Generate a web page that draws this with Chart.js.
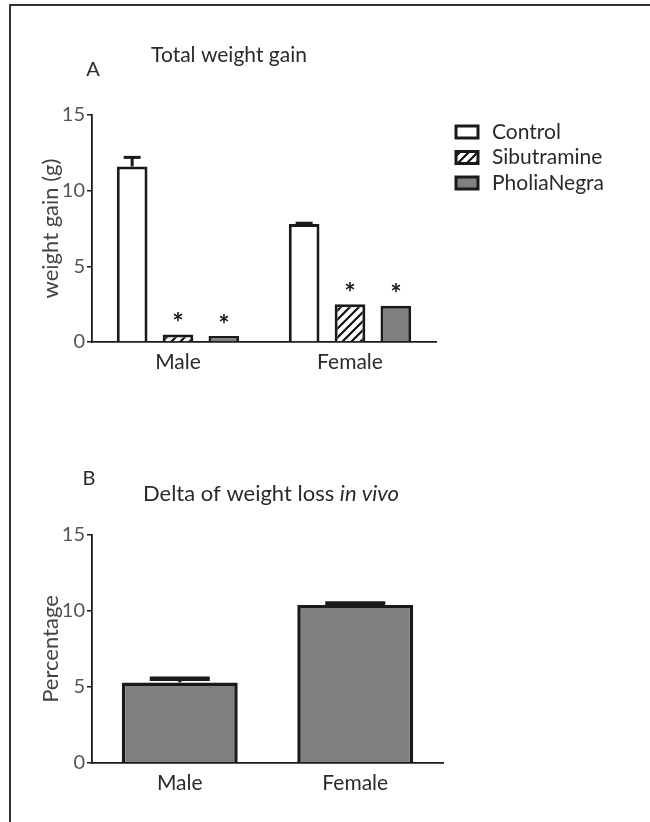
<!DOCTYPE html>
<html><head><meta charset="utf-8">
<script src="https://cdn.jsdelivr.net/npm/chart.js@4.4.0/dist/chart.umd.min.js"></script>
<style>
html,body{margin:0;padding:0;background:#fff;}
body{width:650px;height:822px;position:relative;overflow:hidden;}
#frame{position:absolute;left:9px;top:4px;width:700px;height:900px;border-left:2px solid #333;border-top:2px solid #333;}
.wrap{position:absolute;left:0;width:650px;}
</style></head><body>
<div id="frame"></div>
<div class="wrap" style="top:0;height:410px"><canvas id="cA" width="650" height="410"></canvas></div>
<div class="wrap" style="top:410px;height:412px"><canvas id="cB" width="650" height="412"></canvas></div>
<script>
// ---- data ----
const sexes = ['Male', 'Female'];
const seriesNames = ['Control', 'Sibutramine', 'PholiaNegra'];
const controlGain = [11.6, 7.8];
const sibutramineGain = [0.5, 2.5];
const pholiaGain = [0.4, 2.4];
const controlErr = [0.6, 0.05];
const sibutramineErr = [0, 0];
const pholiaErr = [0, 0];
const sibutramineSig = [true, true];
const pholiaSig = [true, true];
const deltaLoss = [5.3, 10.4];
const deltaLossErr = [0.25, 0.1];
const yTicks = [0, 5, 10, 15];

const FONT = 'Lato';
const INK = '#1a1a1a';
const TXT = '#2a2a2a';
const GREY = '#808080';

function hatchPattern(ctx) {
  const c = document.createElement('canvas'); c.width = 9; c.height = 9;
  const g = c.getContext('2d');
  g.fillStyle = '#fff'; g.fillRect(0, 0, 9, 9);
  g.strokeStyle = '#111'; g.lineWidth = 2.2; g.lineCap = 'square';
  g.beginPath();
  g.moveTo(0, 9); g.lineTo(9, 0);
  g.moveTo(-3, 3); g.lineTo(3, -3);
  g.moveTo(6, 12); g.lineTo(12, 6);
  g.stroke();
  return ctx.createPattern(c, 'repeat');
}

const errPlugin = {
  id: 'errs',
  afterDatasetsDraw(chart) {
    const ctx = chart.ctx, y = chart.scales.y;
    chart.data.datasets.forEach((ds, di) => {
      const meta = chart.getDatasetMeta(di);
      meta.data.forEach((bar, i) => {
        const v = ds.data[i];
        const e = ds.errors ? ds.errors[i] : 0;
        if (e > 0) {
          const yv = y.getPixelForValue(v), yt = y.getPixelForValue(v + e);
          ctx.save();
          ctx.strokeStyle = INK; ctx.lineCap = 'butt';
          ctx.lineWidth = ds.stemWidth;
          ctx.beginPath(); ctx.moveTo(bar.x, yv); ctx.lineTo(bar.x, yt); ctx.stroke();
          ctx.lineWidth = ds.capWidth;
          ctx.beginPath(); ctx.moveTo(bar.x - ds.capLen / 2, yt); ctx.lineTo(bar.x + ds.capLen / 2, yt); ctx.stroke();
          ctx.restore();
        }
        if (ds.sig && ds.sig[i]) {
          ctx.save();
          ctx.fillStyle = INK; ctx.font = 'bold 27px ' + FONT;
          ctx.textAlign = 'center'; ctx.textBaseline = 'middle';
          ctx.fillText('*', bar.x, y.getPixelForValue(v + e) - 11);
          ctx.restore();
        }
      });
    });
  }
};

const textPlugin = {
  id: 'texts',
  afterDraw(chart, args, opts) {
    const ctx = chart.ctx;
    ctx.save();
    ctx.fillStyle = TXT; ctx.textBaseline = 'middle';
    (opts.items || []).forEach(it => {
      ctx.textAlign = it.align || 'left';
      let x = it.x;
      if (it.parts) {
        let total = 0;
        it.parts.forEach(p => { ctx.font = p.font; total += ctx.measureText(p.text).width; });
        x = it.x - total / 2;
        ctx.textAlign = 'left';
        it.parts.forEach(p => { ctx.font = p.font; ctx.fillText(p.text, x, it.y); x += ctx.measureText(p.text).width; });
      } else {
        ctx.font = it.font;
        ctx.fillText(it.text, x, it.y);
      }
    });
    ctx.restore();
  }
};

const legendPlugin = {
  id: 'boxLegend',
  afterDraw(chart, args, opts) {
    if (!opts.show) return;
    const ctx = chart.ctx;
    ctx.save();
    chart.data.datasets.forEach((ds, i) => {
      const cy = opts.y + i * opts.gap;
      ctx.fillStyle = ds.backgroundColor;
      ctx.fillRect(opts.x, cy - opts.bh / 2, opts.bw, opts.bh);
      ctx.strokeStyle = INK; ctx.lineWidth = 3;
      ctx.strokeRect(opts.x, cy - opts.bh / 2, opts.bw, opts.bh);
      ctx.fillStyle = TXT; ctx.font = opts.font;
      ctx.textAlign = 'left'; ctx.textBaseline = 'middle';
      ctx.fillText(ds.label, opts.x + opts.bw + 14, cy);
    });
    ctx.restore();
  }
};

function yScale(titleText, titleSize) {
  return {
    min: 0, max: 15,
    afterFit(s) { s.width = 92; },
    afterBuildTicks(s) { s.ticks = yTicks.map(v => ({ value: v })); },
    ticks: { font: { family: FONT, size: 20 }, color: '#555', padding: 2 },
    grid: { display: true, drawOnChartArea: false, drawTicks: true, tickLength: 5, color: INK, lineWidth: 1.5 },
    border: { display: true, color: INK, width: 1.8 },
    title: { display: true, text: titleText, font: { family: FONT, size: titleSize }, color: '#444', padding: { top: 38, bottom: 0 } }
  };
}
function xScale() {
  return {
    afterFit(s) { s.height = 40; },
    ticks: { font: { family: FONT, size: 21 }, color: TXT, padding: 8 },
    grid: { display: true, drawOnChartArea: false, drawTicks: false },
    border: { display: true, color: INK, width: 1.8 }
  };
}

function build() {
  const ctxA = document.getElementById('cA').getContext('2d');
  new Chart(ctxA, {
    type: 'bar',
    data: {
      labels: sexes,
      datasets: [
        { label: seriesNames[0], data: controlGain, errors: controlErr, backgroundColor: '#ffffff',
          stemWidth: 3, capWidth: 3, capLen: 17 },
        { label: seriesNames[1], data: sibutramineGain, errors: sibutramineErr, sig: sibutramineSig,
          backgroundColor: hatchPattern(ctxA), stemWidth: 3, capWidth: 3, capLen: 17 },
        { label: seriesNames[2], data: pholiaGain, errors: pholiaErr, sig: pholiaSig,
          backgroundColor: GREY, stemWidth: 3, capWidth: 3, capLen: 17 }
      ].map(d => Object.assign(d, { borderColor: INK, borderWidth: 3, borderSkipped: 'start',
          categoryPercentage: 0.8, barPercentage: 0.67 }))
    },
    options: {
      responsive: false, animation: false, devicePixelRatio: 1,
      layout: { padding: { left: 0, right: 214, top: 115, bottom: 28 } },
      plugins: {
        legend: { display: false }, tooltip: { enabled: false },
        boxLegend: { show: true, x: 456, y: 132, gap: 25.5, bw: 22, bh: 12, font: '21px ' + FONT },
        texts: { items: [
          { text: 'A', x: 93, y: 70, font: '20px ' + FONT, align: 'center' },
          { text: 'Total weight gain', x: 229, y: 55, font: '21px ' + FONT, align: 'center' }
        ] }
      },
      scales: { x: xScale(), y: yScale('weight gain (g)', 22) }
    },
    plugins: [errPlugin, textPlugin, legendPlugin]
  });

  const ctxB = document.getElementById('cB').getContext('2d');
  new Chart(ctxB, {
    type: 'bar',
    data: {
      labels: sexes,
      datasets: [
        { label: 'Delta of weight loss', data: deltaLoss, errors: deltaLossErr, backgroundColor: GREY,
          borderColor: INK, borderWidth: 3.5, borderSkipped: 'start',
          categoryPercentage: 0.8, barPercentage: 0.826,
          stemWidth: 3, capWidth: 4.5, capLen: 60 }
      ]
    },
    options: {
      responsive: false, animation: false, devicePixelRatio: 1,
      layout: { padding: { left: 0, right: 207, top: 125, bottom: 19 } },
      plugins: {
        legend: { display: false }, tooltip: { enabled: false },
        texts: { items: [
          { text: 'B', x: 89, y: 69, font: '20px ' + FONT, align: 'center' },
          { x: 271, y: 84, parts: [
            { text: 'Delta of weight loss ', font: '22px ' + FONT },
            { text: 'in vivo', font: 'italic 22px ' + FONT }
          ] }
        ] }
      },
      scales: { x: xScale(), y: yScale('Percentage', 22) }
    },
    plugins: [errPlugin, textPlugin]
  });
}

Promise.all([
  document.fonts.load('20px Lato'),
  document.fonts.load('italic 22px Lato'),
  document.fonts.load('bold 27px Lato')
]).then(build, build);
</script>
</body></html>
